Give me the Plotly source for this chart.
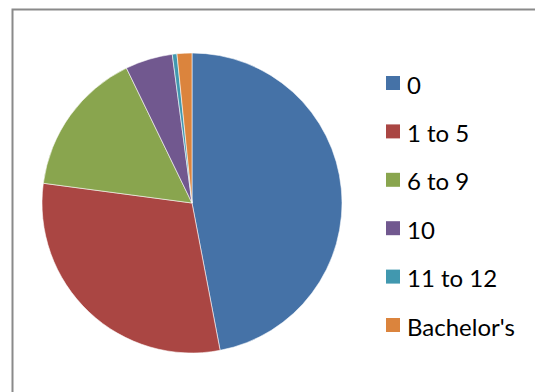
import plotly.graph_objects as go

# Share of respondents by years of schooling
categories = ["0", "1 to 5", "6 to 9", "10", "11 to 12", "Bachelor's"]
shares = [47.0, 30.1, 15.7, 5.1, 0.5, 1.6]
colors = ["#4572A7", "#AA4643", "#89A54E", "#71588F", "#4198AF", "#DB843D"]

W, H = 535, 392
FONT = "Lato"

fig = go.Figure(
    go.Pie(
        labels=categories,
        values=shares,
        sort=False,
        direction="clockwise",
        rotation=0,
        textinfo="none",
        hoverinfo="label+percent",
        marker=dict(colors=colors, line=dict(color="rgba(255,255,255,0.7)", width=0.8)),
        domain=dict(x=[42 / W, 342 / W], y=[(H - 353) / H, (H - 53) / H]),
        showlegend=False,
    )
)

# Chart-area frame
fig.add_shape(
    type="rect", xref="paper", yref="paper",
    x0=12.5 / W, x1=(W + 10) / W, y0=-10 / H, y1=1 - 9.5 / H,
    line=dict(color="#8a8a8a", width=2), fillcolor="rgba(0,0,0,0)",
)

# Legend: colour swatch plus label per category
row0, step = 83, 48.4
for i, (name, col) in enumerate(zip(categories, colors)):
    yc = row0 + i * step
    fig.add_shape(
        type="rect", xref="paper", yref="paper",
        x0=386 / W, x1=400 / W, y0=1 - (yc + 7) / H, y1=1 - (yc - 7) / H,
        line=dict(width=0), fillcolor=col,
    )
    fig.add_annotation(
        x=405 / W, y=1 - (yc + 1) / H, xref="paper", yref="paper",
        text=name, showarrow=False, xanchor="left", yanchor="middle",
        font=dict(family=FONT, size=24, color="#000000"),
    )

fig.update_layout(
    width=W, height=H,
    margin=dict(l=0, r=0, t=0, b=0),
    paper_bgcolor="white",
    plot_bgcolor="white",
)

fig.write_html("out.html")
